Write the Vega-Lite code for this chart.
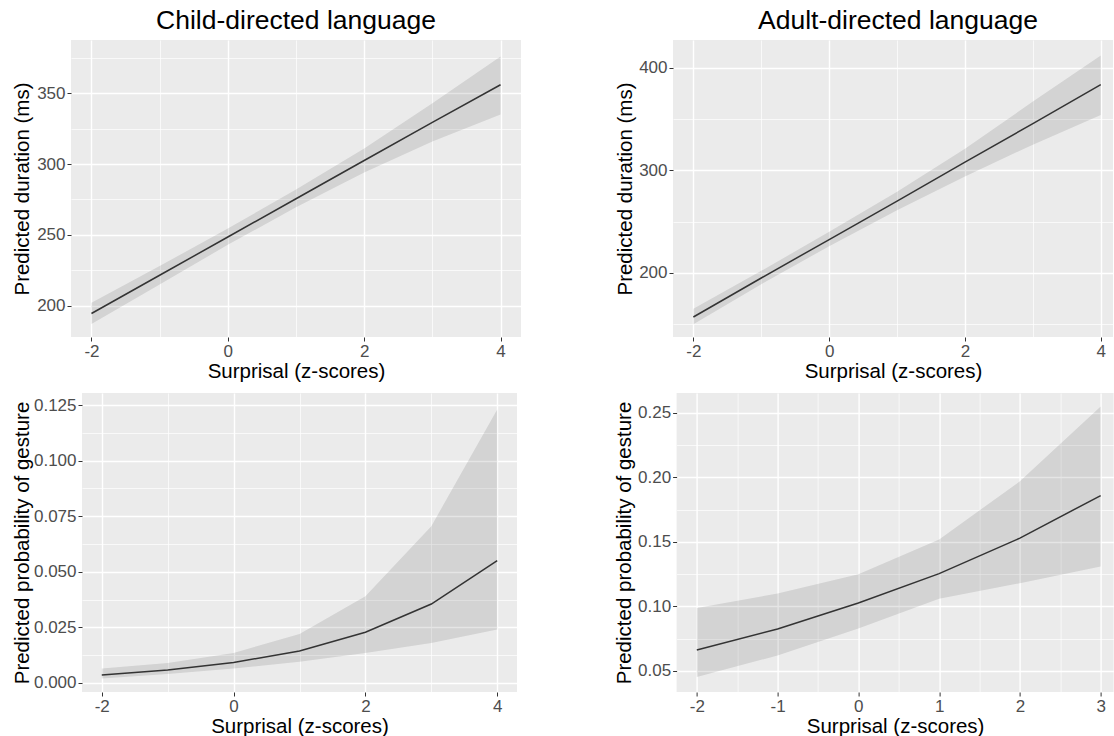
{
  "$schema": "https://vega.github.io/schema/vega-lite/v6.json",
  "padding": {"top": 7, "left": 11, "right": 0, "bottom": 0},
  "background": "#FFFFFF",
  "spacing": 11,
  "columns": 1,
  "concat": [
    {
      "spacing": 0,
      "hconcat": [
        {"width": 1, "height": 1, "data": {"values": []}, "mark": {"type": "point", "opacity": 0}, "view": {"fill": null, "stroke": null}},
        {
          "spacing": 94,
          "hconcat": [
            {
              "width": 450, "height": 297,
              "title": {"text": "Child-directed language", "frame": "group", "anchor": "middle", "offset": 6},
              "data": {"values": [
                {"z": -2, "lo": 187, "fit": 194.5, "hi": 202},
                {"z": -1, "lo": 215, "fit": 221.5, "hi": 228},
                {"z": 0, "lo": 243, "fit": 248.5, "hi": 254.5},
                {"z": 1, "lo": 269.5, "fit": 275.5, "hi": 282},
                {"z": 2, "lo": 294, "fit": 302.5, "hi": 311},
                {"z": 3, "lo": 316, "fit": 329.5, "hi": 343},
                {"z": 4, "lo": 335, "fit": 356, "hi": 376}
              ]},
              "layer": [
                {
                  "mark": {"type": "area", "color": "#000000", "opacity": 0.1},
                  "encoding": {
                    "x": {"field": "z", "type": "quantitative", "scale": {"domain": [-2.3, 4.3], "nice": false, "zero": false},
                          "axis": {"orient": "bottom", "values": [-1, 1, 3], "grid": true, "gridWidth": 0.7, "labels": false, "ticks": false, "domain": false, "title": null}},
                    "y": {"field": "lo", "type": "quantitative", "scale": {"domain": [177.9, 387.6], "nice": false, "zero": false},
                          "axis": {"orient": "left", "values": [225, 275, 325, 375], "grid": true, "gridWidth": 0.7, "labels": false, "ticks": false, "domain": false, "title": null}},
                    "y2": {"field": "hi"}
                  }
                },
                {
                  "mark": {"type": "line", "color": "#333333", "strokeWidth": 1.5},
                  "encoding": {
                    "x": {"field": "z", "type": "quantitative", "scale": {"domain": [-2.3, 4.3], "nice": false, "zero": false},
                          "axis": {"orient": "bottom", "values": [-2, 0, 2, 4], "grid": true, "labelExpr": "toString(datum.value)", "title": "Surprisal (z-scores)", "titlePadding": 2}},
                    "y": {"field": "fit", "type": "quantitative", "scale": {"domain": [177.9, 387.6], "nice": false, "zero": false},
                          "axis": {"orient": "left", "values": [200, 250, 300, 350], "grid": true, "format": "d", "title": "Predicted duration (ms)", "titlePadding": 4}}
                  }
                }
              ],
              "resolve": {"axis": {"x": "independent", "y": "independent"}}
            },
            {
              "width": 440, "height": 297,
              "title": {"text": "Adult-directed language", "frame": "group", "anchor": "middle", "offset": 6, "dx": 5},
              "data": {"values": [
                {"z": -2, "lo": 150, "fit": 157, "hi": 165},
                {"z": -1, "lo": 189, "fit": 195, "hi": 202},
                {"z": 0, "lo": 226, "fit": 232.5, "hi": 240},
                {"z": 1, "lo": 261, "fit": 270, "hi": 279},
                {"z": 2, "lo": 294, "fit": 308, "hi": 321},
                {"z": 3, "lo": 325, "fit": 345.5, "hi": 367},
                {"z": 4, "lo": 354, "fit": 383.5, "hi": 412}
              ]},
              "layer": [
                {
                  "mark": {"type": "area", "color": "#000000", "opacity": 0.1},
                  "encoding": {
                    "x": {"field": "z", "type": "quantitative", "scale": {"domain": [-2.3, 4.18], "nice": false, "zero": false},
                          "axis": {"orient": "bottom", "values": [-1, 1, 3], "grid": true, "gridWidth": 0.7, "labels": false, "ticks": false, "domain": false, "title": null}},
                    "y": {"field": "lo", "type": "quantitative", "scale": {"domain": [137.5, 427], "nice": false, "zero": false},
                          "axis": {"orient": "left", "values": [150, 250, 350], "grid": true, "gridWidth": 0.7, "labels": false, "ticks": false, "domain": false, "title": null}},
                    "y2": {"field": "hi"}
                  }
                },
                {
                  "mark": {"type": "line", "color": "#333333", "strokeWidth": 1.5},
                  "encoding": {
                    "x": {"field": "z", "type": "quantitative", "scale": {"domain": [-2.3, 4.18], "nice": false, "zero": false},
                          "axis": {"orient": "bottom", "values": [-2, 0, 2, 4], "grid": true, "labelExpr": "toString(datum.value)", "title": "Surprisal (z-scores)", "titlePadding": 2}},
                    "y": {"field": "fit", "type": "quantitative", "scale": {"domain": [137.5, 427], "nice": false, "zero": false},
                          "axis": {"orient": "left", "values": [200, 300, 400], "grid": true, "format": "d", "title": "Predicted duration (ms)", "titlePadding": 3}}
                  }
                }
              ],
              "resolve": {"axis": {"x": "independent", "y": "independent"}}
            }
          ]
        }
      ]
    },
    {
      "spacing": 0,
      "hconcat": [
        {"width": 1, "height": 1, "data": {"values": []}, "mark": {"type": "point", "opacity": 0}, "view": {"fill": null, "stroke": null}},
        {
          "spacing": 96.6,
          "hconcat": [
            {
              "width": 435, "height": 299,
              "data": {"values": [
                {"z": -2, "lo": 0.0020, "fit": 0.0036, "hi": 0.0065},
                {"z": -1, "lo": 0.0040, "fit": 0.0058, "hi": 0.0090},
                {"z": 0, "lo": 0.0065, "fit": 0.0092, "hi": 0.0135},
                {"z": 1, "lo": 0.0095, "fit": 0.0144, "hi": 0.0220},
                {"z": 2, "lo": 0.0135, "fit": 0.0228, "hi": 0.0390},
                {"z": 3, "lo": 0.0180, "fit": 0.0355, "hi": 0.0705},
                {"z": 4, "lo": 0.0240, "fit": 0.0550, "hi": 0.1230}
              ]},
              "layer": [
                {
                  "mark": {"type": "area", "color": "#000000", "opacity": 0.1},
                  "encoding": {
                    "x": {"field": "z", "type": "quantitative", "scale": {"domain": [-2.3, 4.3], "nice": false, "zero": false},
                          "axis": {"orient": "bottom", "values": [-1, 1, 3], "grid": true, "gridWidth": 0.7, "labels": false, "ticks": false, "domain": false, "title": null}},
                    "y": {"field": "lo", "type": "quantitative", "scale": {"domain": [-0.00405, 0.1304], "nice": false, "zero": false},
                          "axis": {"orient": "left", "values": [0.0125, 0.0375, 0.0625, 0.0875, 0.1125], "grid": true, "gridWidth": 0.7, "labels": false, "ticks": false, "domain": false, "title": null}},
                    "y2": {"field": "hi"}
                  }
                },
                {
                  "mark": {"type": "line", "color": "#333333", "strokeWidth": 1.5},
                  "encoding": {
                    "x": {"field": "z", "type": "quantitative", "scale": {"domain": [-2.3, 4.3], "nice": false, "zero": false},
                          "axis": {"orient": "bottom", "values": [-2, 0, 2, 4], "grid": true, "labelExpr": "toString(datum.value)", "title": "Surprisal (z-scores)", "titlePadding": 2}},
                    "y": {"field": "fit", "type": "quantitative", "scale": {"domain": [-0.00405, 0.1304], "nice": false, "zero": false},
                          "axis": {"orient": "left", "values": [0, 0.025, 0.05, 0.075, 0.1, 0.125], "grid": true, "format": ".3f", "title": "Predicted probability of gesture", "titlePadding": 1}}
                  }
                }
              ],
              "resolve": {"axis": {"x": "independent", "y": "independent"}}
            },
            {
              "width": 437, "height": 299,
              "data": {"values": [
                {"z": -2, "lo": 0.0453, "fit": 0.0663, "hi": 0.0988},
                {"z": -1, "lo": 0.0620, "fit": 0.0826, "hi": 0.1100},
                {"z": 0, "lo": 0.0830, "fit": 0.1027, "hi": 0.1250},
                {"z": 1, "lo": 0.1060, "fit": 0.1255, "hi": 0.1520},
                {"z": 2, "lo": 0.1180, "fit": 0.1530, "hi": 0.1970},
                {"z": 3, "lo": 0.1310, "fit": 0.1860, "hi": 0.2550}
              ]},
              "layer": [
                {
                  "mark": {"type": "area", "color": "#000000", "opacity": 0.1},
                  "encoding": {
                    "x": {"field": "z", "type": "quantitative", "scale": {"domain": [-2.25, 3.16], "nice": false, "zero": false},
                          "axis": {"orient": "bottom", "values": [-1.5, -0.5, 0.5, 1.5, 2.5], "grid": true, "gridWidth": 0.7, "labels": false, "ticks": false, "domain": false, "title": null}},
                    "y": {"field": "lo", "type": "quantitative", "scale": {"domain": [0.0337, 0.2655], "nice": false, "zero": false},
                          "axis": {"orient": "left", "values": [0.075, 0.125, 0.175, 0.225], "grid": true, "gridWidth": 0.7, "labels": false, "ticks": false, "domain": false, "title": null}},
                    "y2": {"field": "hi"}
                  }
                },
                {
                  "mark": {"type": "line", "color": "#333333", "strokeWidth": 1.5},
                  "encoding": {
                    "x": {"field": "z", "type": "quantitative", "scale": {"domain": [-2.25, 3.16], "nice": false, "zero": false},
                          "axis": {"orient": "bottom", "values": [-2, -1, 0, 1, 2, 3], "grid": true, "labelExpr": "toString(datum.value)", "title": "Surprisal (z-scores)", "titlePadding": 2}},
                    "y": {"field": "fit", "type": "quantitative", "scale": {"domain": [0.0337, 0.2655], "nice": false, "zero": false},
                          "axis": {"orient": "left", "values": [0.05, 0.1, 0.15, 0.2, 0.25], "grid": true, "format": ".2f", "title": "Predicted probability of gesture", "titlePadding": 3}}
                  }
                }
              ],
              "resolve": {"axis": {"x": "independent", "y": "independent"}}
            }
          ]
        }
      ]
    }
  ],
  "config": {
    "font": "Liberation Sans",
    "view": {"fill": "#EBEBEB", "stroke": null},
    "axis": {
      "gridColor": "#FFFFFF", "gridWidth": 1.4, "gridOpacity": 1,
      "domain": false, "tickColor": "#333333", "tickSize": 4, "tickWidth": 1,
      "labelColor": "#4D4D4D", "labelFontSize": 17, "labelPadding": 2,
      "titleFontSize": 20.5, "titleColor": "#000000", "titleFontWeight": "normal",
      "labelFlush": false, "labelOverlap": false
    },
    "title": {"fontSize": 26.5, "fontWeight": "normal", "color": "#000000"}
  }
}
